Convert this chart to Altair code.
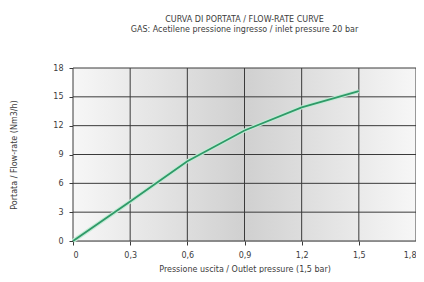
import altair as alt
import pandas as pd

pressure = [0, 0.3, 0.6, 0.9, 1.2, 1.5]
flow = [0, 4.1, 8.3, 11.5, 13.9, 15.6]
x_ticks = [0, 0.3, 0.6, 0.9, 1.2, 1.5, 1.8]
y_ticks = [0, 3, 6, 9, 12, 15, 18]

df = pd.DataFrame({"p": pressure, "q": flow})
bg = pd.DataFrame({"p": [0], "p2": [1.8], "q": [0], "q2": [18]})
xg = pd.DataFrame({"p": x_ticks})
yg = pd.DataFrame({"q": y_ticks})

FONT = "DejaVu Sans"
TXT = "#3c3c3c"
GRID = "#3a3a3a"

xscale = alt.Scale(domain=[0, 1.8], nice=False)
yscale = alt.Scale(domain=[0, 18], nice=False)

xaxis = alt.Axis(values=x_ticks,
                 labelExpr="datum.value == 0 ? '0' : replace(format(datum.value, '.1f'), '.', ',')",
                 title="Pressione uscita / Outlet pressure (1,5 bar)",
                 grid=False,
                 domain=False, ticks=True, tickColor=GRID, tickSize=4,
                 labelFont=FONT, labelFontSize=8, labelColor=TXT, labelPadding=6,
                 titleFont=FONT, titleFontSize=8, titleColor=TXT, titleFontWeight="normal", titlePadding=6)
yaxis = alt.Axis(values=y_ticks,
                 title="Portata / Flow-rate (Nm3/h)",
                 grid=False,
                 domain=False, ticks=True, tickColor=GRID, tickSize=4,
                 labelFont=FONT, labelFontSize=8, labelColor=TXT, labelPadding=6,
                 titleFont=FONT, titleFontSize=8, titleColor=TXT, titleFontWeight="normal", titlePadding=34)

xenc = alt.X("p:Q", scale=xscale, axis=xaxis)
yenc = alt.Y("q:Q", scale=yscale, axis=yaxis)

grad = alt.LinearGradient(
    gradient="linear", x1=0, y1=0, x2=1, y2=0,
    stops=[alt.GradientStop(offset=0, color="#f7f7f7"),
           alt.GradientStop(offset=0.5, color="#d0d0d0"),
           alt.GradientStop(offset=1, color="#f7f7f7")])

back = alt.Chart(bg).mark_rect(color=grad).encode(
    x=xenc, x2="p2:Q", y=yenc, y2="q2:Q")

vgrid = alt.Chart(xg).mark_rule(color=GRID, strokeWidth=1).encode(x=xenc)
hgrid = alt.Chart(yg).mark_rule(color=GRID, strokeWidth=1).encode(y=yenc)

halo = alt.Chart(df).mark_line(color="#c4ebd6", strokeWidth=4).encode(x=xenc, y=yenc)
line = alt.Chart(df).mark_line(color="#2f9a68", strokeWidth=1.8).encode(x=xenc, y=yenc)

chart = alt.layer(back, vgrid, hgrid, halo, line).properties(
    width=343, height=173,
    title=alt.TitleParams(
        text="CURVA DI PORTATA / FLOW-RATE CURVE",
        subtitle="GAS: Acetilene  pressione ingresso / inlet pressure 20 bar",
        font=FONT, fontSize=8, fontWeight="normal", color=TXT,
        subtitleFont=FONT, subtitleFontSize=8, subtitleColor=TXT,
        subtitlePadding=2, anchor="middle", offset=30),
    autosize=alt.AutoSizeParams(type="none"),
    padding={"left": 65, "top": 60, "right": 0, "bottom": 32},
).configure_view(
    stroke=None,
).configure(background="white")

chart.save("out.html", embed_options={"renderer": "svg", "actions": False})
